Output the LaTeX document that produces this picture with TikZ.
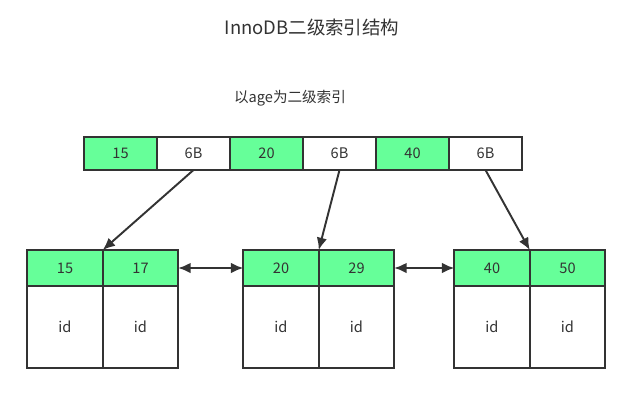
\documentclass[tikz,border=0pt]{standalone}
\usepackage{fontspec}
\setmainfont{Noto Sans CJK SC}
\usetikzlibrary{arrows.meta}
\definecolor{keygreen}{RGB}{102,255,153}
\definecolor{linegray}{RGB}{51,51,51}
\tikzset{
  cell/.style={draw=linegray, line width=1.1pt, text=linegray, inner sep=0pt, outer sep=0pt,
    font=\fontsize{8.3}{10}\selectfont, minimum width=1.46cm, minimum height=0.66cm},
  key/.style={cell, fill=keygreen},
  ptr/.style={cell, fill=white},
  leafkey/.style={cell, fill=keygreen, minimum width=1.51cm, minimum height=0.72cm},
  leafval/.style={cell, fill=white, minimum width=1.51cm, minimum height=1.64cm},
  link/.style={draw=linegray, line width=1.1pt, -{Latex[length=7pt,width=6pt]}},
  sibling/.style={draw=linegray, line width=1.1pt, {Latex[length=7pt,width=6pt]}-{Latex[length=7pt,width=6pt]}}
}
\begin{document}
\begin{tikzpicture}[x=0.02cm, y=-0.02cm]
  \useasboundingbox (0,0) rectangle (625,403);
  % titles
  \node[text=linegray, font=\fontsize{10.5}{12}\selectfont] (title) at (312,27) {InnoDB二级索引结构};
  \node[text=linegray, font=\fontsize{8.3}{10}\selectfont] (sub) at (290,98) {以age为二级索引};
  % root page
  \node[key] (r1) at (120.5,153.5) {15};
  \node[ptr] (p1) at (193.5,153.5) {6B};
  \node[key] (r2) at (266.5,153.5) {20};
  \node[ptr] (p2) at (339.5,153.5) {6B};
  \node[key] (r3) at (412.5,153.5) {40};
  \node[ptr] (p3) at (485.5,153.5) {6B};
  % leaf pages
  \node[leafkey] (a1) at (65,268) {15};
  \node[leafkey] (a2) at (140.5,268) {17};
  \node[leafval] (a1id) at (65,327) {id};
  \node[leafval] (a2id) at (140.5,327) {id};
  \node[leafkey] (b1) at (281,268) {20};
  \node[leafkey] (b2) at (356.5,268) {29};
  \node[leafval] (b1id) at (281,327) {id};
  \node[leafval] (b2id) at (356.5,327) {id};
  \node[leafkey] (c1) at (492,268) {40};
  \node[leafkey] (c2) at (567.5,268) {50};
  \node[leafval] (c1id) at (492,327) {id};
  \node[leafval] (c2id) at (567.5,327) {id};
  % pointers
  \draw[link] (p1.south) -- (a1.north east);
  \draw[link] (p2.south) -- (b1.north east);
  \draw[link] (p3.south) -- (c1.north east);
  \draw[sibling] (a2.east) -- (b1.west);
  \draw[sibling] (b2.east) -- (c1.west);
\end{tikzpicture}
\end{document}
